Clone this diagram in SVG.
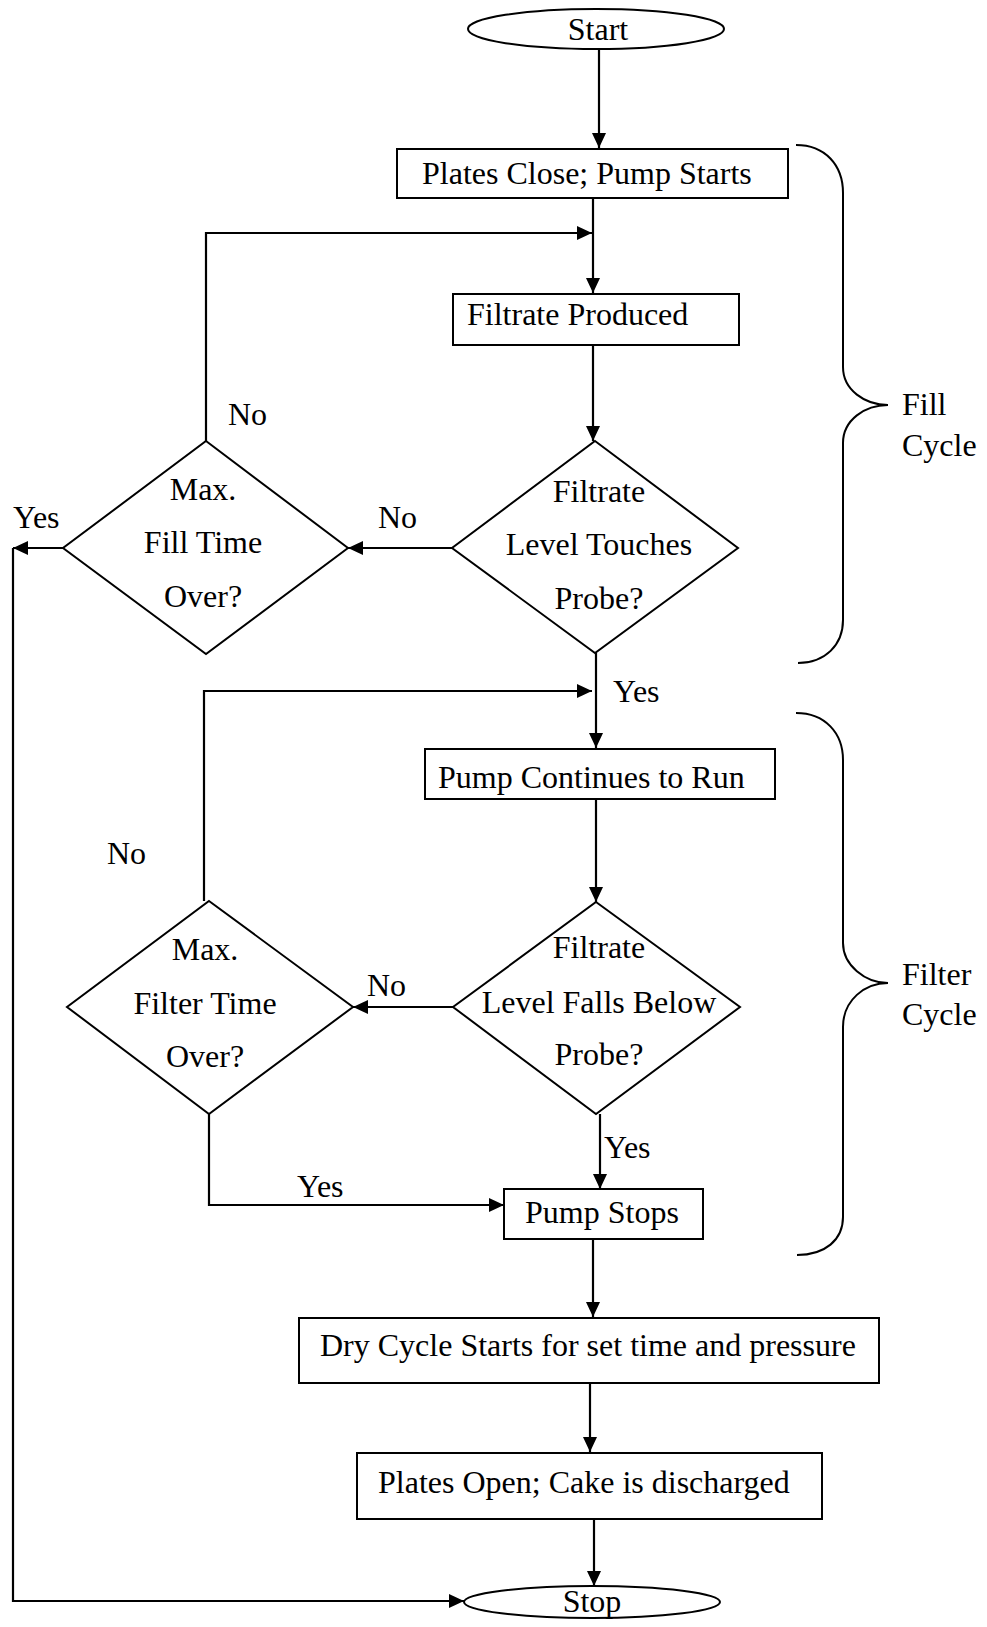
<svg xmlns="http://www.w3.org/2000/svg" width="987" height="1627" viewBox="0 0 987 1627">
<defs>
<marker id="ah" markerWidth="15" markerHeight="14" refX="15" refY="7" orient="auto" markerUnits="userSpaceOnUse">
<path d="M0,0 L15,7 L0,14 Z" fill="#000"/>
</marker>
<style>
.t{font-family:"Liberation Serif","Times New Roman",serif;font-size:32px;fill:#000}
.m{text-anchor:middle}
.b{fill:#fff;stroke:#000;stroke-width:2}
.c{fill:none;stroke:#000;stroke-width:2}
.a{fill:none;stroke:#000;stroke-width:2.2;marker-end:url(#ah)}
</style>
</defs>
<rect width="987" height="1627" fill="#fff"/>
<g id="connectors">
<line class="a" x1="599" y1="49" x2="599" y2="148"/>
<line class="a" x1="593" y1="198" x2="593" y2="293"/>
<polyline class="a" points="206,441 206,233 592,233"/>
<line class="a" x1="593" y1="345" x2="593" y2="441"/>
<line class="a" x1="452" y1="548" x2="348" y2="548"/>
<line class="a" x1="63" y1="548" x2="13" y2="548"/>
<polyline class="a" points="13,548 13,1601 464,1601"/>
<line class="a" x1="596" y1="653" x2="596" y2="748"/>
<polyline class="a" points="204,901 204,691 592,691"/>
<line class="a" x1="596" y1="799" x2="596" y2="902"/>
<line class="a" x1="453" y1="1007" x2="353" y2="1007"/>
<line class="a" x1="600" y1="1114" x2="600" y2="1189"/>
<polyline class="a" points="209,1114 209,1205 504,1205"/>
<line class="a" x1="593" y1="1239" x2="593" y2="1317"/>
<line class="a" x1="590" y1="1383" x2="590" y2="1452"/>
<line class="a" x1="594" y1="1519" x2="594" y2="1586"/>
</g>
<g id="start">
<ellipse class="b" cx="596" cy="29" rx="128" ry="20"/>
<text class="t m" x="598" y="40">Start</text>
</g>
<g id="plates-close">
<rect class="b" x="397" y="149" width="391" height="49"/>
<text class="t" x="422" y="184">Plates Close; Pump Starts</text>
</g>
<g id="filtrate-produced">
<rect class="b" x="453" y="294" width="286" height="51"/>
<text class="t" x="467" y="325">Filtrate Produced</text>
</g>
<g id="touches-probe">
<polygon class="b" points="595,441 738,548 595,653 452,548"/>
<text class="t m" x="599" y="502">Filtrate</text>
<text class="t m" x="599" y="555">Level Touches</text>
<text class="t m" x="599" y="609">Probe?</text>
</g>
<g id="max-fill">
<polygon class="b" points="206,441 348,548 206,654 63,548"/>
<text class="t m" x="203" y="500">Max.</text>
<text class="t m" x="203" y="553">Fill Time</text>
<text class="t m" x="203" y="607">Over?</text>
</g>
<g id="pump-continues">
<rect class="b" x="425" y="749" width="350" height="50"/>
<text class="t" x="438" y="788">Pump Continues to Run</text>
</g>
<g id="falls-below">
<polygon class="b" points="596,902 740,1007 596,1114 453,1007"/>
<text class="t m" x="599" y="958">Filtrate</text>
<text class="t m" x="599" y="1013">Level Falls Below</text>
<text class="t m" x="599" y="1065">Probe?</text>
</g>
<g id="max-filter">
<polygon class="b" points="209,901 353,1007 209,1114 67,1007"/>
<text class="t m" x="205" y="960">Max.</text>
<text class="t m" x="205" y="1014">Filter Time</text>
<text class="t m" x="205" y="1067">Over?</text>
</g>
<g id="pump-stops">
<rect class="b" x="504" y="1189" width="199" height="50"/>
<text class="t" x="525" y="1223">Pump Stops</text>
</g>
<g id="dry-cycle">
<rect class="b" x="299" y="1318" width="580" height="65"/>
<text class="t" x="320" y="1356">Dry Cycle Starts for set time and pressure</text>
</g>
<g id="plates-open">
<rect class="b" x="357" y="1453" width="465" height="66"/>
<text class="t" x="378" y="1493">Plates Open; Cake is discharged</text>
</g>
<g id="stop">
<ellipse class="b" cx="592" cy="1602" rx="128" ry="16"/>
<text class="t m" x="592" y="1612">Stop</text>
</g>
<g id="labels">
<text class="t" x="228" y="425">No</text>
<text class="t" x="13" y="528">Yes</text>
<text class="t" x="378" y="528">No</text>
<text class="t" x="613" y="702">Yes</text>
<text class="t" x="107" y="864">No</text>
<text class="t" x="367" y="996">No</text>
<text class="t" x="604" y="1158">Yes</text>
<text class="t" x="297" y="1197">Yes</text>
</g>
<g id="fill-cycle">
<path class="c" d="M796,145 C825,145 843,165 843,193 L843,367 C843,390 865,405 888,405 C865,405 843,420 843,443 L843,620 C843,645 825,663 798,663"/>
<text class="t" x="902" y="415">Fill</text>
<text class="t" x="902" y="456">Cycle</text>
</g>
<g id="filter-cycle">
<path class="c" d="M796,713 C825,713 843,733 843,760 L843,943 C843,965 865,983 888,983 C865,983 843,1000 843,1027 L843,1217 C843,1240 825,1255 797,1255"/>
<text class="t" x="902" y="985">Filter</text>
<text class="t" x="902" y="1025">Cycle</text>
</g>
</svg>
